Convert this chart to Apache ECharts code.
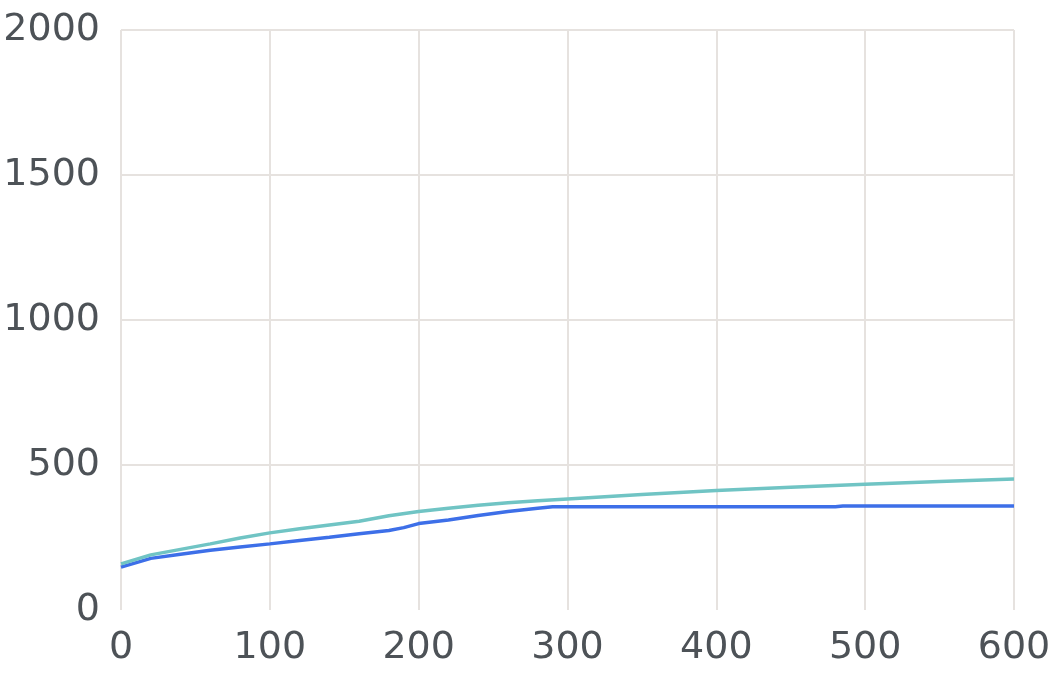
<!DOCTYPE html>
<html><head><meta charset="utf-8">
<script src="https://cdn.jsdelivr.net/npm/echarts@6/dist/echarts.min.js"></script>
<style>html,body{margin:0;padding:0;background:#fff}#c{width:1061px;height:678px}</style>
</head><body><div id="c"></div>
<script>
const tealX = [0, 20, 40, 60, 80, 100, 120, 140, 160, 180, 200, 220, 240, 260, 280, 300, 350, 400, 450, 500, 550, 600];
const tealY = [159, 190, 209, 228, 248, 266, 280, 293, 306, 325, 340, 351, 361, 370, 377, 383, 398, 412, 423, 434, 443, 452];
const blueX = [0, 20, 40, 60, 80, 100, 120, 140, 160, 180, 190, 200, 220, 240, 260, 280, 290, 300, 480, 485, 600];
const blueY = [148, 178, 192, 206, 217, 228, 240, 251, 263, 274, 284, 298, 310, 326, 340, 351, 356, 356, 356, 359, 359];

const chart = echarts.init(document.getElementById('c'));
const font = {fontFamily: 'DejaVu Sans', fontSize: 38, color: '#4d5257', formatter: v => String(v)};
chart.setOption({
  animation: false,
  grid: {left: 121, right: 47, top: 30, bottom: 68, containLabel: false, outerBoundsMode: 'none'},
  xAxis: {
    type: 'value', min: 0, max: 600, interval: 100,
    axisLine: {show: false}, axisTick: {show: false},
    axisLabel: Object.assign({margin: 19}, font),
    splitLine: {lineStyle: {color: '#e6e2df', width: 2}}
  },
  yAxis: {
    type: 'value', min: 0, max: 2000, interval: 500,
    axisLine: {show: false}, axisTick: {show: false},
    axisLabel: Object.assign({margin: 21, lineHeight: 38, padding: [5, 0, 0, 0]}, font),
    splitLine: {lineStyle: {color: '#e6e2df', width: 2}, showMinLine: false}
  },
  series: [
    {type: 'line', data: blueX.map((x, i) => [x, blueY[i]]), showSymbol: false,
     lineStyle: {color: '#3d6fe8', width: 3.5}, z: 2},
    {type: 'line', data: tealX.map((x, i) => [x, tealY[i]]), showSymbol: false,
     lineStyle: {color: '#70c4c4', width: 3.5}, z: 3}
  ]
});
</script></body></html>
